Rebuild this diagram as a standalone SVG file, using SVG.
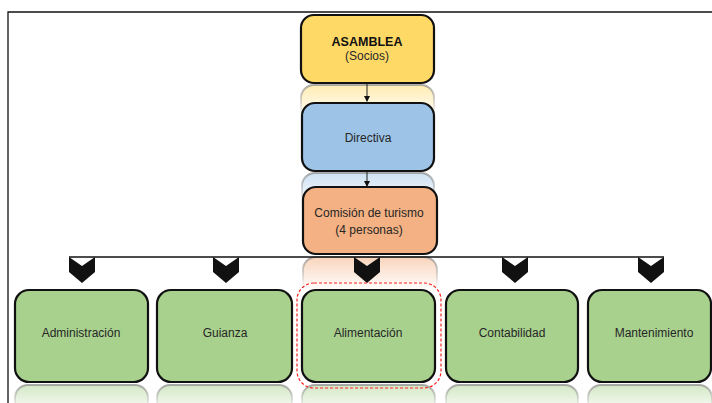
<svg xmlns="http://www.w3.org/2000/svg" width="712" height="403" viewBox="0 0 712 403">
<defs>
<style>
.box{stroke:#111;stroke-width:2.2}
.t{font-family:"Liberation Sans",Arial,sans-serif;font-size:12px;fill:#262626;text-anchor:middle}
.b{font-weight:bold;fill:#111;font-size:12.5px}
.conn{stroke:#222;stroke-width:1;fill:none}
.hline{stroke:#111;stroke-width:1.3;fill:none}
.chev{fill:#111}
</style>
<linearGradient id="ry" x1="0" y1="0" x2="0" y2="1"><stop offset="0" stop-color="#FFD966" stop-opacity="0.5"/><stop offset="0.5" stop-color="#FFD966" stop-opacity="0"/></linearGradient>
<linearGradient id="rb" x1="0" y1="0" x2="0" y2="1"><stop offset="0" stop-color="#9DC3E6" stop-opacity="0.5"/><stop offset="0.5" stop-color="#9DC3E6" stop-opacity="0"/></linearGradient>
<linearGradient id="ro" x1="0" y1="0" x2="0" y2="1"><stop offset="0" stop-color="#F4B183" stop-opacity="0.55"/><stop offset="0.5" stop-color="#F4B183" stop-opacity="0"/></linearGradient>
<linearGradient id="rg" x1="0" y1="0" x2="0" y2="1"><stop offset="0" stop-color="#A9D18E" stop-opacity="0.5"/><stop offset="0.6" stop-color="#A9D18E" stop-opacity="0"/></linearGradient>
<linearGradient id="rs" x1="0" y1="0" x2="0" y2="1"><stop offset="0" stop-color="#888" stop-opacity="0.7"/><stop offset="0.45" stop-color="#888" stop-opacity="0"/></linearGradient>
<marker id="ah" markerWidth="6" markerHeight="6" refX="5" refY="3" orient="auto" markerUnits="userSpaceOnUse"><path d="M0,0 L6,3 L0,6 Z" fill="#111"/></marker>
<polygon id="chv" points="-13,0 0,9 13,0 13,15 0,26 -13,15"/>
</defs>

<g id="frame"><path d="M8,403 V12 H712" stroke="#111" stroke-width="1.3" fill="none"/></g>

<g id="reflections">
<rect x="301" y="85" width="133" height="68" rx="13" fill="url(#ry)" stroke="url(#rs)" stroke-width="2"/>
<rect x="302" y="173" width="132" height="68" rx="13" fill="url(#rb)" stroke="url(#rs)" stroke-width="2"/>
<rect x="303" y="257" width="134" height="67" rx="13" fill="url(#ro)" stroke="url(#rs)" stroke-width="2"/>
<rect x="15" y="385" width="133" height="50" rx="13" fill="url(#rg)" stroke="url(#rs)" stroke-width="2"/>
<rect x="157" y="385" width="135" height="50" rx="13" fill="url(#rg)" stroke="url(#rs)" stroke-width="2"/>
<rect x="302" y="385" width="133" height="50" rx="13" fill="url(#rg)" stroke="url(#rs)" stroke-width="2"/>
<rect x="446" y="385" width="132" height="50" rx="13" fill="url(#rg)" stroke="url(#rs)" stroke-width="2"/>
<rect x="588" y="385" width="124" height="50" rx="13" fill="url(#rg)" stroke="url(#rs)" stroke-width="2"/>
</g>

<g id="connectors">
<line class="conn" x1="367" y1="84" x2="367" y2="101" marker-end="url(#ah)"/>
<line class="conn" x1="367" y1="172" x2="367" y2="186" marker-end="url(#ah)"/>
<line class="hline" x1="69" y1="257" x2="664" y2="257"/>
<use href="#chv" class="chev" x="82" y="257"/>
<use href="#chv" class="chev" x="226" y="257"/>
<use href="#chv" class="chev" x="367" y="257"/>
<use href="#chv" class="chev" x="515" y="257"/>
<use href="#chv" class="chev" x="651" y="257"/>
</g>

<g id="asamblea">
<rect class="box" x="301" y="15" width="133" height="68" rx="13" fill="#FFD966"/>
<text class="t b" x="367" y="46">ASAMBLEA</text>
<text class="t" x="367" y="60">(Socios)</text>
</g>
<g id="directiva">
<rect class="box" x="302" y="103" width="132" height="68" rx="13" fill="#9DC3E6"/>
<text class="t" x="368" y="142">Directiva</text>
</g>
<g id="comision">
<rect class="box" x="303" y="187" width="134" height="67" rx="13" fill="#F4B183"/>
<text class="t" x="369" y="217">Comisión de turismo</text>
<text class="t" x="369" y="234">(4 personas)</text>
</g>

<g id="administracion">
<rect class="box" x="15" y="290" width="133" height="92" rx="14" fill="#A9D18E"/>
<text class="t" x="81" y="337">Administración</text>
</g>
<g id="guianza">
<rect class="box" x="157" y="290" width="135" height="92" rx="14" fill="#A9D18E"/>
<text class="t" x="225" y="337">Guianza</text>
</g>
<g id="alimentacion">
<rect class="box" x="302" y="290" width="133" height="92" rx="14" fill="#A9D18E"/>
<text class="t" x="368" y="337">Alimentación</text>
<rect x="297" y="283" width="144" height="105" rx="17" fill="none" stroke="#FF2020" stroke-width="1.2" stroke-dasharray="3,2"/>
</g>
<g id="contabilidad">
<rect class="box" x="446" y="290" width="132" height="92" rx="14" fill="#A9D18E"/>
<text class="t" x="512" y="337">Contabilidad</text>
</g>
<g id="mantenimiento">
<rect class="box" x="588" y="290" width="123" height="92" rx="14" fill="#A9D18E"/>
<text class="t" x="654" y="337">Mantenimiento</text>
</g>
</svg>
